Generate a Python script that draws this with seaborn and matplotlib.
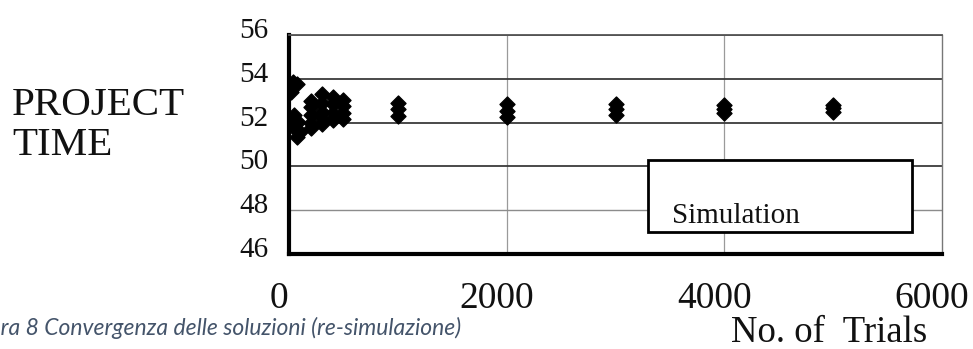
import matplotlib
matplotlib.use("Agg")
import matplotlib.pyplot as plt
import matplotlib.transforms as mtransforms
from matplotlib.patches import Rectangle
import pandas as pd
import seaborn as sns

# Re-simulation results: number of trials and resulting project time
trials = [40, 20, 70,
          50, 80, 30, 100, 70,
          200, 200, 200, 200, 200,
          300, 300, 300, 300, 300,
          400, 400, 400, 400,
          500, 500, 500, 500,
          1000, 1000, 1000,
          2000, 2000, 2000,
          3000, 3000, 3000,
          4000, 4000, 4000,
          5000, 5000, 5000]
project_time = [53.85, 53.4, 53.75,
                52.35, 52.05, 51.85, 51.55, 51.35,
                53.0, 52.7, 52.35, 52.0, 51.75,
                53.3, 52.9, 52.5, 52.2, 51.95,
                53.15, 52.85, 52.45, 52.1,
                53.05, 52.75, 52.45, 52.15,
                52.9, 52.6, 52.3,
                52.85, 52.55, 52.25,
                52.85, 52.6, 52.35,
                52.8, 52.6, 52.45,
                52.8, 52.65, 52.5]

x_ticks = [0, 2000, 4000, 6000]
y_ticks = [46, 48, 50, 52, 54, 56]

SERIF = ["Liberation Serif", "DejaVu Serif"]

df = pd.DataFrame({"trials": trials, "project_time": project_time})

sns.set_style("white")
plt.rcParams["font.family"] = SERIF

fig = plt.figure(figsize=(9.73, 3.49), dpi=100)
ax = fig.add_axes([289 / 973, 95 / 349, 653 / 973, 219 / 349])

sns.scatterplot(data=df, x="trials", y="project_time", marker="D",
                color="black", edgecolor="black", linewidth=1.0, s=58,
                ax=ax, zorder=4, legend=False)

ax.set_xlim(0, 6000)
ax.set_ylim(46, 56)
ax.set_xticks(x_ticks)
ax.set_yticks(y_ticks)
ax.set_xticklabels([str(v) for v in x_ticks], fontfamily=SERIF)
ax.set_yticklabels([str(v) for v in y_ticks], fontfamily=SERIF)
ax.set_xlabel("")
ax.set_ylabel("")

# grid
ax.set_axisbelow(True)
ax.grid(True, axis="y", color="#3a3a3a", linewidth=1.3)
ax.grid(True, axis="x", color="#9a9a9a", linewidth=0.9)
for val, gl in zip(y_ticks, ax.yaxis.get_gridlines()):
    if val == 48:
        gl.set_color("#8c8c8c")
        gl.set_linewidth(1.0)
for val, gl in zip(x_ticks, ax.xaxis.get_gridlines()):
    if val in (0, 6000):
        gl.set_visible(False)

# spines
for side in ("left", "bottom"):
    ax.spines[side].set_color("black")
    ax.spines[side].set_linewidth(3.0)
ax.spines["top"].set_color("#555555")
ax.spines["top"].set_linewidth(1.3)
ax.spines["right"].set_color("#777777")
ax.spines["right"].set_linewidth(1.0)

ax.tick_params(axis="both", direction="in", color="black", width=3,
               length=12, labelcolor="#111111")
ax.tick_params(axis="y", labelsize=21, pad=15)
ax.tick_params(axis="x", labelsize=27, pad=20, length=15)

# nudge tick labels to sit as in the printed figure
dy = mtransforms.ScaledTranslation(0, 7 / 100, fig.dpi_scale_trans)
for lbl in ax.get_yticklabels():
    lbl.set_fontfamily(SERIF)
    lbl.set_transform(lbl.get_transform() + dy)
dx = mtransforms.ScaledTranslation(-10 / 100, 0, fig.dpi_scale_trans)
for lbl in ax.get_xticklabels():
    lbl.set_fontfamily(SERIF)
    lbl.set_transform(lbl.get_transform() + dx)

# legend-like box
ax.add_patch(Rectangle((0.55, 0.10), 0.404, 0.33, transform=ax.transAxes,
                       facecolor="white", edgecolor="black", linewidth=2.0,
                       zorder=5))
ax.text(0.5865, 0.1416, "Simulation", transform=ax.transAxes, fontsize=21,
        family=SERIF, ha="left", va="baseline", color="#111111", zorder=6)

# axis titles
fig.text(12 / 973, 1 - 115 / 349, "PROJECT", fontsize=29.5, family=SERIF,
         ha="left", va="baseline", color="#111111")
fig.text(12 / 973, 1 - 155 / 349, "TIME", fontsize=29.5, family=SERIF,
         ha="left", va="baseline", color="#111111")
fig.text(829 / 973, 7 / 349, "No. of  Trials", fontsize=26.5, family=SERIF,
         ha="center", va="baseline", color="#111111")

# caption
fig.text(461 / 973, 1 - 335 / 349,
         "Figura 8 Convergenza delle soluzioni (re-simulazione)",
         fontsize=16.5, fontstyle="italic", family=["Lato", "DejaVu Sans"],
         color="#44546A", ha="right", va="baseline")

fig.savefig("out.png", dpi=100)
